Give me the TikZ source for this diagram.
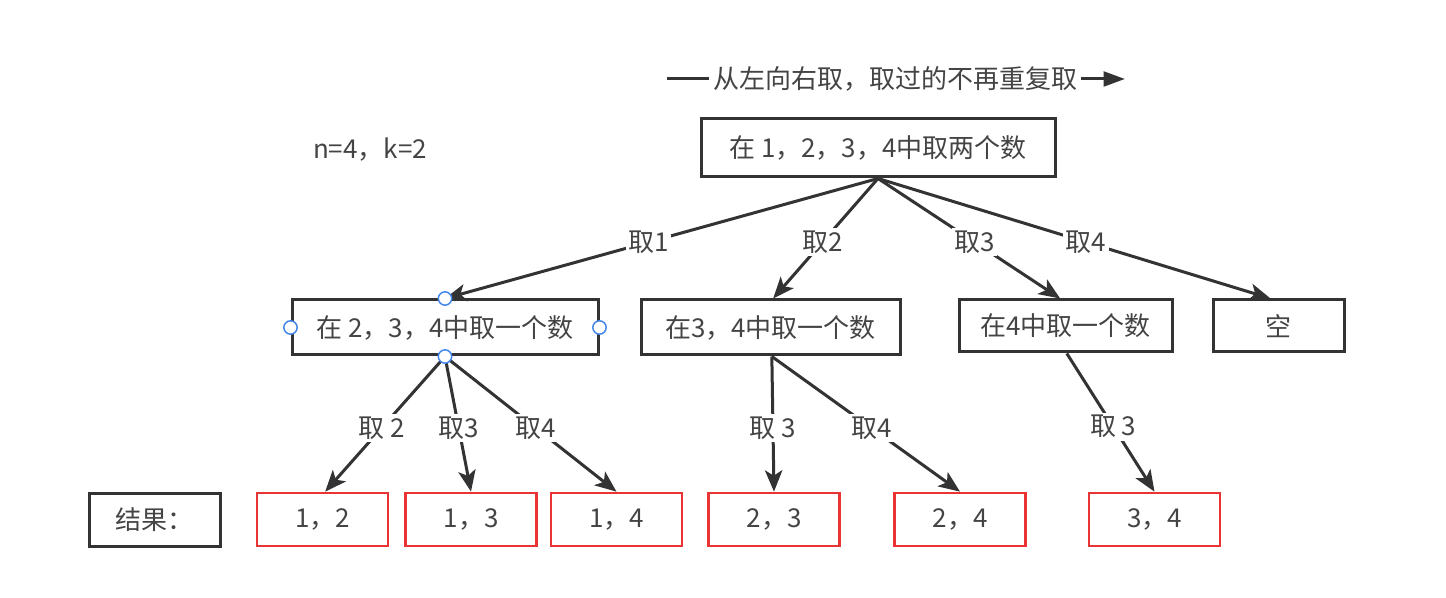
\documentclass[tikz,border=0pt]{standalone}
\usepackage{fontspec}
\setmainfont{Noto Sans CJK SC}
\usetikzlibrary{arrows.meta}
\definecolor{ink}{RGB}{51,51,51}
\definecolor{inktext}{RGB}{68,68,68}
\definecolor{boxred}{RGB}{232,52,52}
\definecolor{handleblue}{RGB}{66,133,235}
\tikzset{every picture/.style={line width=2.25pt}}
\tikzset{
  stepbox/.style={draw=ink, text=inktext, inner sep=0pt, minimum height=41.25pt},
  resbox/.style={draw=boxred, line width=2pt, text=inktext, inner sep=0pt, minimum width=98.25pt, minimum height=39.75pt},
  pick/.style={draw=ink, -{Stealth[length=16pt,width=13pt,inset=4pt]}},
  note/.style={fill=white, text=inktext, inner sep=2pt},
  picklabel/.style={note, pos=0.53},
  handle/.style={circle, draw=handleblue, fill=white, line width=1.1pt, minimum size=10pt, inner sep=0pt}
}

\begin{document}
\begin{tikzpicture}[x=0.75pt,y=0.75pt,yscale=-1,xscale=1,font=\fontsize{19.5}{23}\selectfont]
\useasboundingbox (0,0) rectangle (1446,598);

% Direction note
\coordinate (dirL) at (667,79);
\coordinate (dirR) at (1125,79);
\node (dir) [note] at (895,79) {从左向右取，取过的不再重复取};
\draw [ink] (dirL) -- (dir.west);
\draw [ink, -{Triangle[length=16pt,width=11pt]}] (dir.east) -- (dirR);

% Text Node
\node (nk) [text=inktext] at (370,150) {n=4，k=2};

% Root
\node (root) [stepbox, minimum width=265.5pt, minimum height=43.5pt] at (878,148) {在 1，2，3，4中取两个数};

% First pick
\node (a) [stepbox, minimum width=229.5pt] at (445,327.5) {在 2，3，4中取一个数};
\node (b) [stepbox, minimum width=194.25pt] at (770.5,327.5) {在3，4中取一个数};
\node (c) [stepbox, minimum width=159.75pt, minimum height=39pt] at (1065.5,326) {在4中取一个数};
\node (d) [stepbox, minimum width=98.25pt, minimum height=39pt] at (1278.5,326) {空};

% Results
\node (res) [stepbox, minimum width=98.25pt, minimum height=39.75pt] at (154.5,519.5) {结果：};
\node (r12) [resbox] at (322.5,519.5) {1，2};
\node (r13) [resbox] at (471,519.5) {1，3};
\node (r14) [resbox] at (616.5,519.5) {1，4};
\node (r23) [resbox] at (774,519.5) {2，3};
\node (r24) [resbox] at (960,519.5) {2，4};
\node (r34) [resbox] at (1154.5,519.5) {3，4};

% Edges from root
\draw [pick] (root.south) -- node [picklabel] {取1} (a.north);
\draw [pick] (root.south) -- node [picklabel] {取2} ([xshift=2pt]b.north);
\draw [pick] (root.south) -- node [picklabel] {取3} ([xshift=-4pt]c.north);
\draw [pick] (root.south) -- node [picklabel] {取4} ([xshift=-6pt]d.north);

% Edges to results
\draw [pick] (a.south) -- node [picklabel] {取 2} ([xshift=2pt]r12.north);
\draw [pick] (a.south) -- node [picklabel] {取3} (r13.north);
\draw [pick] (a.south) -- node [picklabel] {取4} (r14.north);
\draw [pick] ([xshift=1pt]b.south) -- node [picklabel] {取 3} (r23.north);
\draw [pick] ([xshift=1pt]b.south) -- node [picklabel] {取4} (r24.north);
\draw [pick] ([xshift=1pt]c.south) -- node [picklabel] {取 3} (r34.north);

% Selection handles
\foreach \side in {north,south,east,west}
  \node (ha-\side) [handle] at (a.\side) {};
\end{tikzpicture}
\end{document}
